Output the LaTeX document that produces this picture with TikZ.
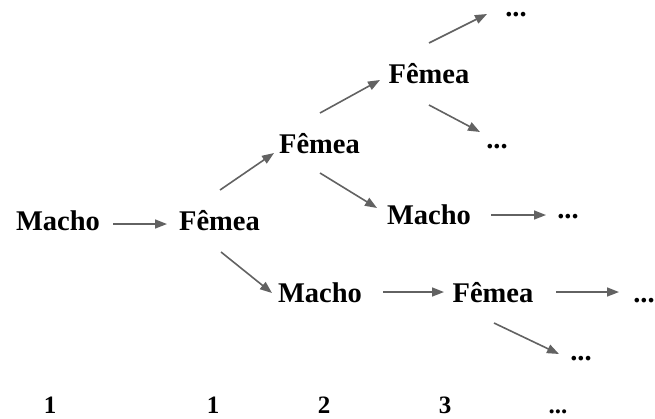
\documentclass[tikz,border=0pt]{standalone}
\usepackage{fontspec}
\setmainfont{Liberation Serif}
\usetikzlibrary{arrows.meta}
\definecolor{arrgray}{HTML}{626262}
\tikzset{
  lbl/.style={inner sep=0pt, anchor=base, font=\fontsize{28.5}{30}\selectfont\bfseries},
  gen/.style={inner sep=0pt, anchor=base, font=\fontsize{25}{27}\selectfont\bfseries},
  arr/.style={draw=arrgray, line width=1.6pt, -{Triangle[length=12pt,width=9pt]}, fill=arrgray}
}
\begin{document}
\begin{tikzpicture}[x=1pt, y=-1pt]
  \useasboundingbox (0,0) rectangle (655,418);
  % individuals
  \node[lbl] (m1) at (58,230) {Macho};
  \node[lbl] (f1) at (219.5,230) {Fêmea};
  \node[lbl] (f2) at (319.5,153) {Fêmea};
  \node[lbl] (m2) at (320,302) {Macho};
  \node[lbl] (f3) at (429,83) {Fêmea};
  \node[lbl] (m3) at (429,224) {Macho};
  \node[lbl] (f4) at (493,302) {Fêmea};
  \node[lbl] (d1) at (516,16) {...};
  \node[lbl] (d2) at (497,148) {...};
  \node[lbl] (d3) at (568,218) {...};
  \node[lbl] (d4) at (644,302) {...};
  \node[lbl] (d5) at (581,360) {...};
  % generation numbers
  \node[gen] (g1) at (50,413) {1};
  \node[gen] (g2) at (213,413) {1};
  \node[gen] (g3) at (324,413) {2};
  \node[gen] (g4) at (445,413) {3};
  \node[gen] (g5) at (558,413) {...};
  % ancestry arrows
  \draw[arr] ([shift={(55,-6)}]m1.base) -- ([shift={(-52.5,-6)}]f1.base);
  \draw[arr] ([shift={(0.5,-40)}]f1.base) -- ([shift={(-45.5,0)}]f2.base);
  \draw[arr] ([shift={(1.5,22)}]f1.base) -- ([shift={(-48,-9)}]m2.base);
  \draw[arr] ([shift={(0.5,-40)}]f2.base) -- ([shift={(-49,-3)}]f3.base);
  \draw[arr] ([shift={(0.5,20)}]f2.base) -- ([shift={(-52,-16)}]m3.base);
  \draw[arr] ([shift={(0,-40)}]f3.base) -- ([shift={(-29,-2)}]d1.base);
  \draw[arr] ([shift={(0,22)}]f3.base) -- ([shift={(-17,-16)}]d2.base);
  \draw[arr] ([shift={(62,-9)}]m3.base) -- ([shift={(-22,-3)}]d3.base);
  \draw[arr] ([shift={(63,-10)}]m2.base) -- ([shift={(-49,-10)}]f4.base);
  \draw[arr] ([shift={(63,-10)}]f4.base) -- ([shift={(-25,-10)}]d4.base);
  \draw[arr] ([shift={(1,21)}]f4.base) -- ([shift={(-22,-6)}]d5.base);
\end{tikzpicture}
\end{document}
